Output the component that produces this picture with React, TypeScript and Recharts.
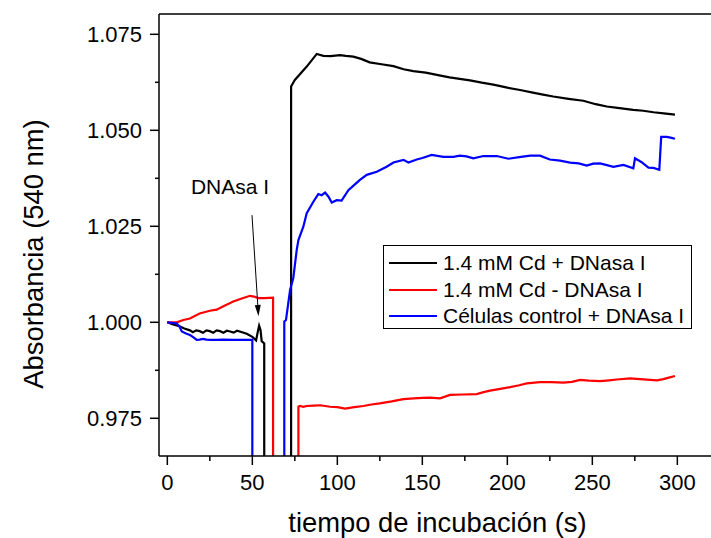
import { LineChart, Line, XAxis, YAxis, Legend, ReferenceLine, ReferenceDot } from 'recharts';

const FONT = '"Liberation Sans", Arial, sans-serif';

// 1.4 mM Cd + DNasa I (black)
const cdDnaseTime = [0, 3, 7.5, 10, 13.3, 15, 17, 19, 21, 23, 25, 27, 29, 31, 33, 35, 37, 39, 41, 44, 46.7, 50, 52.2, 53.2, 54, 54.8, 55.5, 57, 57, 72.8, 72.8, 75, 82, 87.9, 91.8, 96, 101.6, 105, 109.4, 114, 119, 126, 133, 139, 144.7, 152, 160, 166, 172, 178, 185, 191.8, 200, 207.5, 215, 221, 227, 236, 244.7, 252, 258.5, 266, 274, 280, 286, 292, 298.6];
const cdDnaseAbs = [1.0, 0.9995, 0.9989, 0.9984, 0.9979, 0.9974, 0.9979, 0.9977, 0.9973, 0.9979, 0.9977, 0.9973, 0.9979, 0.9977, 0.9973, 0.9978, 0.9976, 0.9973, 0.9978, 0.9974, 0.997, 0.9962, 0.9953, 0.9975, 0.9991, 0.998, 0.9951, 0.9945, 0.9, 0.9, 1.0614, 1.0631, 1.0666, 1.0699, 1.0694, 1.0693, 1.0696, 1.0694, 1.0692, 1.0686, 1.0677, 1.0672, 1.0667, 1.0659, 1.0654, 1.065, 1.0643, 1.0638, 1.0634, 1.063, 1.0624, 1.0619, 1.0611, 1.0605, 1.0598, 1.0593, 1.0588, 1.0582, 1.0577, 1.0568, 1.0562, 1.0558, 1.0553, 1.0551, 1.0547, 1.0544, 1.0541];

// 1.4 mM Cd - DNAsa I (red)
const cdNoDnaseTime = [0, 5.5, 9.4, 13.3, 19, 25, 29, 33, 38.8, 43.8, 48.6, 51, 53.5, 57, 62.2, 62.2, 77.1, 77.1, 78, 80, 82, 86, 90, 95.7, 100, 104.5, 110, 115.3, 120, 125, 132, 138.8, 145, 150, 154.5, 160.4, 166.3, 174, 182, 186, 189.8, 195, 201.6, 207, 211.4, 219.2, 226, 233, 238, 242.8, 248, 254.5, 260, 264.4, 272.2, 278, 284, 288, 291.8, 295, 298.6];
const cdNoDnaseAbs = [1.0, 1.0, 1.0006, 1.001, 1.0023, 1.003, 1.0033, 1.0042, 1.0054, 1.0062, 1.0069, 1.0067, 1.0063, 1.0063, 1.0064, 0.9, 0.9, 0.978, 0.9782, 0.978, 0.9782, 0.9783, 0.9784, 0.978, 0.9779, 0.9775, 0.9779, 0.9782, 0.9786, 0.9789, 0.9794, 0.98, 0.9802, 0.9803, 0.9804, 0.9802, 0.9811, 0.9812, 0.9813, 0.9818, 0.9822, 0.9826, 0.9831, 0.9836, 0.9841, 0.9844, 0.9844, 0.9843, 0.9845, 0.985, 0.9848, 0.9847, 0.9849, 0.9851, 0.9854, 0.9852, 0.985, 0.9849, 0.9852, 0.9856, 0.986];

// Células control + DNAsa I (blue)
const controlTime = [0, 5.5, 7, 8.5, 11, 13.3, 15, 17.3, 19, 21, 23, 26, 29, 33, 38.8, 43, 48.6, 50, 50, 68.8, 68.8, 69.8, 72.2, 74.1, 76.1, 77.1, 80, 82, 85.9, 88.8, 90.8, 92.8, 94.8, 96.7, 99.6, 102.5, 106.5, 110, 113.3, 117.3, 123.2, 129, 133, 138.9, 141.8, 146.7, 150, 155.5, 162.4, 168.3, 172, 176, 180, 185.9, 193.8, 200.6, 207, 213.4, 219.2, 225, 231, 236.9, 242, 246.7, 250.5, 254.5, 258, 262.4, 268.3, 274.1, 275.1, 279, 283, 286, 289.4, 290.5, 293.8, 296, 298.6];
const controlAbs = [1.0, 0.9997, 0.999, 0.9976, 0.9971, 0.9967, 0.9962, 0.9954, 0.9955, 0.9957, 0.9955, 0.9954, 0.9954, 0.9955, 0.9954, 0.9954, 0.9954, 0.9954, 0.9, 0.9, 1.0002, 1.0006, 1.0084, 1.0115, 1.0188, 1.0214, 1.0249, 1.0284, 1.0314, 1.0334, 1.0331, 1.0338, 1.0327, 1.0312, 1.0318, 1.0317, 1.0344, 1.0358, 1.0371, 1.0384, 1.0392, 1.0405, 1.0416, 1.0423, 1.0416, 1.0424, 1.0428, 1.0436, 1.0431, 1.0431, 1.0434, 1.0432, 1.0427, 1.0433, 1.0433, 1.0426, 1.043, 1.0434, 1.0434, 1.0424, 1.0421, 1.0416, 1.0414, 1.0408, 1.0413, 1.0414, 1.041, 1.0405, 1.041, 1.0401, 1.0427, 1.0417, 1.0403, 1.0402, 1.0397, 1.0483, 1.0483, 1.0481, 1.0478];

const xTicks = [0, 25, 50, 75, 100, 125, 150, 175, 200, 225, 250, 275, 300];
const yTicks = [0.975, 0.9875, 1.0, 1.0125, 1.025, 1.0375, 1.05, 1.0625, 1.075];

// annotation: "DNAsa I" with arrow
const noteText = { t: 36.9, a: 1.0353 };
const arrowStart = { t: 49.8, a: 1.0279 };
const arrowBase = { t: 53.2, a: 1.0045 };
const arrowTip = { t: 53.6, a: 1.0016 };

const toPoints = (t: number[], a: number[]) => t.map((x, i) => ({ t: x, a: a[i] }));

const cdDnase = toPoints(cdDnaseTime, cdDnaseAbs);
const cdNoDnase = toPoints(cdNoDnaseTime, cdNoDnaseAbs);
const control = toPoints(controlTime, controlAbs);

const isMajorX = (v: number) => v % 50 === 0;
const isMajorY = (v: number) => Math.abs(Math.round(v * 40) - v * 40) < 1e-6;

const BottomTick = (props: any) => {
  const { x, y, payload } = props;
  const major = isMajorX(payload.value);
  return (
    <g>
      <line x1={x} x2={x} y1={y} y2={y + (major ? 9 : 5)} stroke="#000" strokeWidth={1.5} />
      {major && (
        <text x={x} y={y + 34} textAnchor="middle" fontFamily={FONT} fontSize={22} fill="#000">
          {payload.value}
        </text>
      )}
    </g>
  );
};

const TopTick = (props: any) => {
  const { x, y } = props;
  return <line x1={x} x2={x} y1={y} y2={y + 5} stroke="#000" strokeWidth={1.5} />;
};

const LeftTick = (props: any) => {
  const { x, y, payload } = props;
  const major = isMajorY(payload.value);
  return (
    <g>
      <line x1={x - (major ? 9 : 4)} x2={x} y1={y} y2={y} stroke="#000" strokeWidth={1.5} />
      {major && (
        <text x={x - 17} y={y + 8} textAnchor="end" fontFamily={FONT} fontSize={22} fill="#000">
          {payload.value.toFixed(3)}
        </text>
      )}
    </g>
  );
};

const LegendBox = (props: any) => {
  const { payload } = props;
  return (
    <div
      style={{
        border: '1px solid #000',
        background: '#fff',
        paddingTop: 4,
        height: 84,
        boxSizing: 'border-box',
        fontFamily: FONT,
        fontSize: 21,
        color: '#000',
      }}
    >
      {(payload || []).map((p: any) => (
        <div key={p.value} style={{ display: 'flex', alignItems: 'center', height: 26.5 }}>
          <span
            style={{
              display: 'inline-block',
              width: 48,
              borderTop: `2px solid ${p.color}`,
              marginLeft: 5,
              marginRight: 6,
            }}
          />
          <span style={{ whiteSpace: 'nowrap', lineHeight: '26.5px' }}>{p.value}</span>
        </div>
      ))}
    </div>
  );
};

export default function App() {
  return (
    <div style={{ position: 'absolute', left: 0, top: 0, background: '#fff' }}>
      <LineChart width={711} height={538} margin={{ top: 13, right: 0, bottom: 22, left: 40 }}>
        <XAxis
          dataKey="t"
          type="number"
          domain={[-4.9, 319.8]}
          ticks={xTicks}
          interval={0}
          allowDataOverflow
          height={60}
          tickSize={0}
          tickMargin={0}
          tickLine={false}
          axisLine={{ stroke: '#000', strokeWidth: 1.5 }}
          tick={BottomTick}
          label={() => (
            <text x={437.5} y={532} textAnchor="middle" fontFamily={FONT} fontSize={27.4} fill="#000">
              tiempo de incubación (s)
            </text>
          )}
        />
        <XAxis
          xAxisId="top"
          orientation="top"
          type="number"
          domain={[-4.9, 319.8]}
          ticks={xTicks}
          interval={0}
          allowDataOverflow
          height={1}
          tickSize={0}
          tickMargin={0}
          tickLine={false}
          axisLine={{ stroke: '#000', strokeWidth: 1.5 }}
          tick={TopTick}
        />
        <YAxis
          type="number"
          domain={[0.96518, 1.08029]}
          ticks={yTicks}
          interval={0}
          allowDataOverflow
          width={119}
          tickSize={0}
          tickMargin={0}
          tickLine={false}
          axisLine={{ stroke: '#000', strokeWidth: 1.5 }}
          tick={LeftTick}
          label={() => (
            <text
              x={33}
              y={254}
              transform="rotate(-90 33 254)"
              textAnchor="middle"
              dominantBaseline="central"
              fontFamily={FONT}
              fontSize={27.4}
              fill="#000"
            >
              Absorbancia (540 nm)
            </text>
          )}
        />
        <Legend
          layout="vertical"
          align="center"
          verticalAlign="middle"
          wrapperStyle={{ left: 383, top: 245, width: 309, height: 84 }}
          content={LegendBox}
        />
        <Line data={cdDnase} dataKey="a" name="1.4 mM Cd + DNasa I" stroke="#000000" strokeWidth={2.2} dot={false} type="linear" isAnimationActive={false} />
        <Line data={cdNoDnase} dataKey="a" name="1.4 mM Cd - DNAsa I" stroke="#ff0000" strokeWidth={2.2} dot={false} type="linear" isAnimationActive={false} />
        <Line data={control} dataKey="a" name="Células control + DNAsa I" stroke="#0000ff" strokeWidth={2.2} dot={false} type="linear" isAnimationActive={false} />
        <ReferenceLine
          segment={[
            { x: arrowStart.t, y: arrowStart.a },
            { x: arrowBase.t, y: arrowBase.a },
          ]}
          stroke="#000"
          strokeWidth={1}
        />
        <ReferenceDot
          x={arrowTip.t}
          y={arrowTip.a}
          shape={(p: any) => (
            <polygon
              points={`${p.cx},${p.cy} ${p.cx - 3.7},${p.cy - 11} ${p.cx + 2.3},${p.cy - 11.4}`}
              fill="#000"
            />
          )}
        />
        <ReferenceDot
          x={noteText.t}
          y={noteText.a}
          shape={(p: any) => (
            <text x={p.cx} y={p.cy} textAnchor="middle" dominantBaseline="central" fontFamily={FONT} fontSize={21} fill="#000">
              DNAsa I
            </text>
          )}
        />
      </LineChart>
    </div>
  );
}
